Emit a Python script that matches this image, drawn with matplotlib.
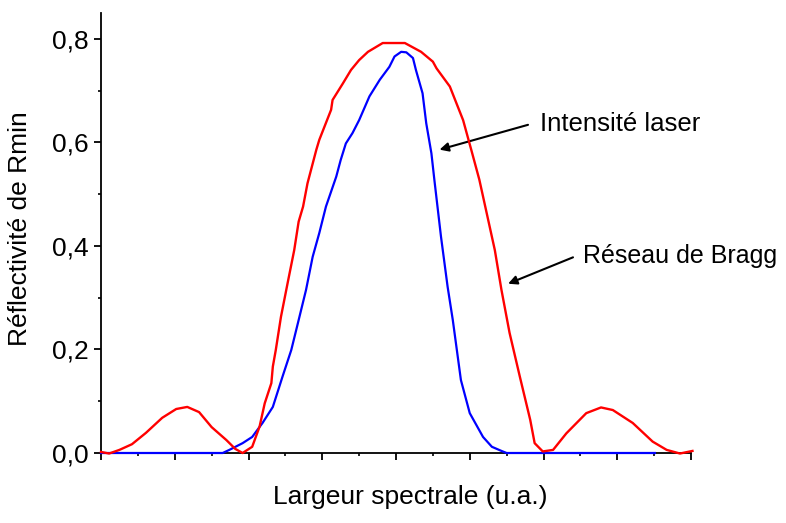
import matplotlib
matplotlib.use('Agg')
import matplotlib.pyplot as plt
from matplotlib.ticker import MultipleLocator

plt.rcParams['font.family'] = ['Liberation Sans', 'DejaVu Sans']

# Réseau de Bragg (rouge)
bragg_x = [0.00, 0.11, 0.25, 0.42, 0.61, 0.83, 1.02, 1.17, 1.33, 1.50, 1.70, 1.82, 1.92,
           2.05, 2.15, 2.22, 2.31, 2.33, 2.37, 2.44, 2.53, 2.62, 2.68, 2.74, 2.80, 2.92,
           2.96, 3.12, 3.14, 3.28, 3.39, 3.50, 3.62, 3.82, 4.12, 4.34, 4.50, 4.55, 4.73,
           4.91, 5.02, 5.13, 5.34, 5.43, 5.54, 5.68, 5.82, 5.88, 5.99, 6.13, 6.31, 6.49,
           6.58, 6.78, 6.94, 7.21, 7.48, 7.67, 7.85, 8.02]
bragg_y = [0.002, -0.001, 0.006, 0.017, 0.039, 0.068, 0.085, 0.089, 0.079, 0.050, 0.025, 0.008, 0.000,
           0.012, 0.051, 0.096, 0.135, 0.167, 0.199, 0.263, 0.328, 0.392, 0.447, 0.476, 0.521, 0.586,
           0.605, 0.663, 0.682, 0.714, 0.740, 0.759, 0.775, 0.792, 0.792, 0.775, 0.756, 0.743, 0.708,
           0.643, 0.586, 0.528, 0.392, 0.315, 0.232, 0.147, 0.064, 0.019, 0.003, 0.006, 0.038, 0.064,
           0.077, 0.088, 0.083, 0.058, 0.022, 0.006, -0.001, 0.004]

# Intensité laser (bleu)
laser_x = [0.00, 1.65, 1.74, 1.92, 2.05, 2.19, 2.33, 2.46, 2.58, 2.67, 2.78, 2.87, 2.96, 3.05,
           3.19, 3.25, 3.32, 3.41, 3.50, 3.64, 3.78, 3.91, 3.98, 4.07, 4.14, 4.23, 4.27, 4.36,
           4.41, 4.48, 4.52, 4.61, 4.70, 4.77, 4.88, 5.00, 5.18, 5.30, 5.43, 5.50, 7.51]
laser_y = [0.0, 0.0, 0.006, 0.019, 0.031, 0.058, 0.089, 0.147, 0.199, 0.251, 0.315, 0.379, 0.425, 0.476,
           0.534, 0.566, 0.598, 0.618, 0.643, 0.689, 0.721, 0.746, 0.766, 0.775, 0.774, 0.763, 0.740, 0.695,
           0.637, 0.579, 0.528, 0.418, 0.321, 0.257, 0.141, 0.077, 0.031, 0.012, 0.004, 0.0, 0.0]

yticks = [0.0, 0.2, 0.4, 0.6, 0.8]
ytick_labels = ['0,0', '0,2', '0,4', '0,6', '0,8']

fig = plt.figure(figsize=(7.86, 5.23), dpi=100)
ax = fig.add_axes([101 / 786, 1 - 453 / 523, 590 / 786, 440 / 523])

ax.plot(laser_x, laser_y, color='#0000ff', lw=1.6, clip_on=False, zorder=3,
        solid_joinstyle='round')
ax.plot(bragg_x, bragg_y, color='#ff0000', lw=1.7, clip_on=False, zorder=4,
        solid_joinstyle='round')

ax.set_xlim(0, 8)
ax.set_ylim(0, 0.85)
for s in ['top', 'right']:
    ax.spines[s].set_visible(False)
for s in ['left', 'bottom']:
    ax.spines[s].set_linewidth(1.3)

ax.xaxis.set_major_locator(MultipleLocator(1))
ax.xaxis.set_minor_locator(MultipleLocator(0.5))
ax.set_xticklabels([])
ax.set_yticks(yticks)
ax.set_yticklabels(ytick_labels)
ax.yaxis.set_minor_locator(MultipleLocator(0.1))
ax.tick_params(which='major', length=5, width=1.3, labelsize=19, pad=4)
ax.tick_params(which='minor', length=2.5, width=1.2)

ax.set_xlabel('Largeur spectrale (u.a.)', fontsize=19, va='center')
ax.xaxis.set_label_coords(0.524, -0.1)
ax.set_ylabel('Réflectivité de Rmin', fontsize=19, va='center')
ax.yaxis.set_label_coords(-0.137, 0.51)

arrow = dict(arrowstyle='-|>', color='black', lw=1.5, mutation_scale=13, shrinkA=0, shrinkB=0)
ax.annotate('', xy=(4.59, 0.586), xytext=(5.79, 0.634), arrowprops=arrow)
ax.text(5.95, 0.622, 'Intensité laser', fontsize=18.5, va='baseline', ha='left')
ax.annotate('', xy=(5.52, 0.327), xytext=(6.40, 0.378), arrowprops=arrow)
ax.text(6.53, 0.367, 'Réseau de Bragg', fontsize=18, va='baseline', ha='left', clip_on=False)

fig.savefig('out.png', dpi=100)
